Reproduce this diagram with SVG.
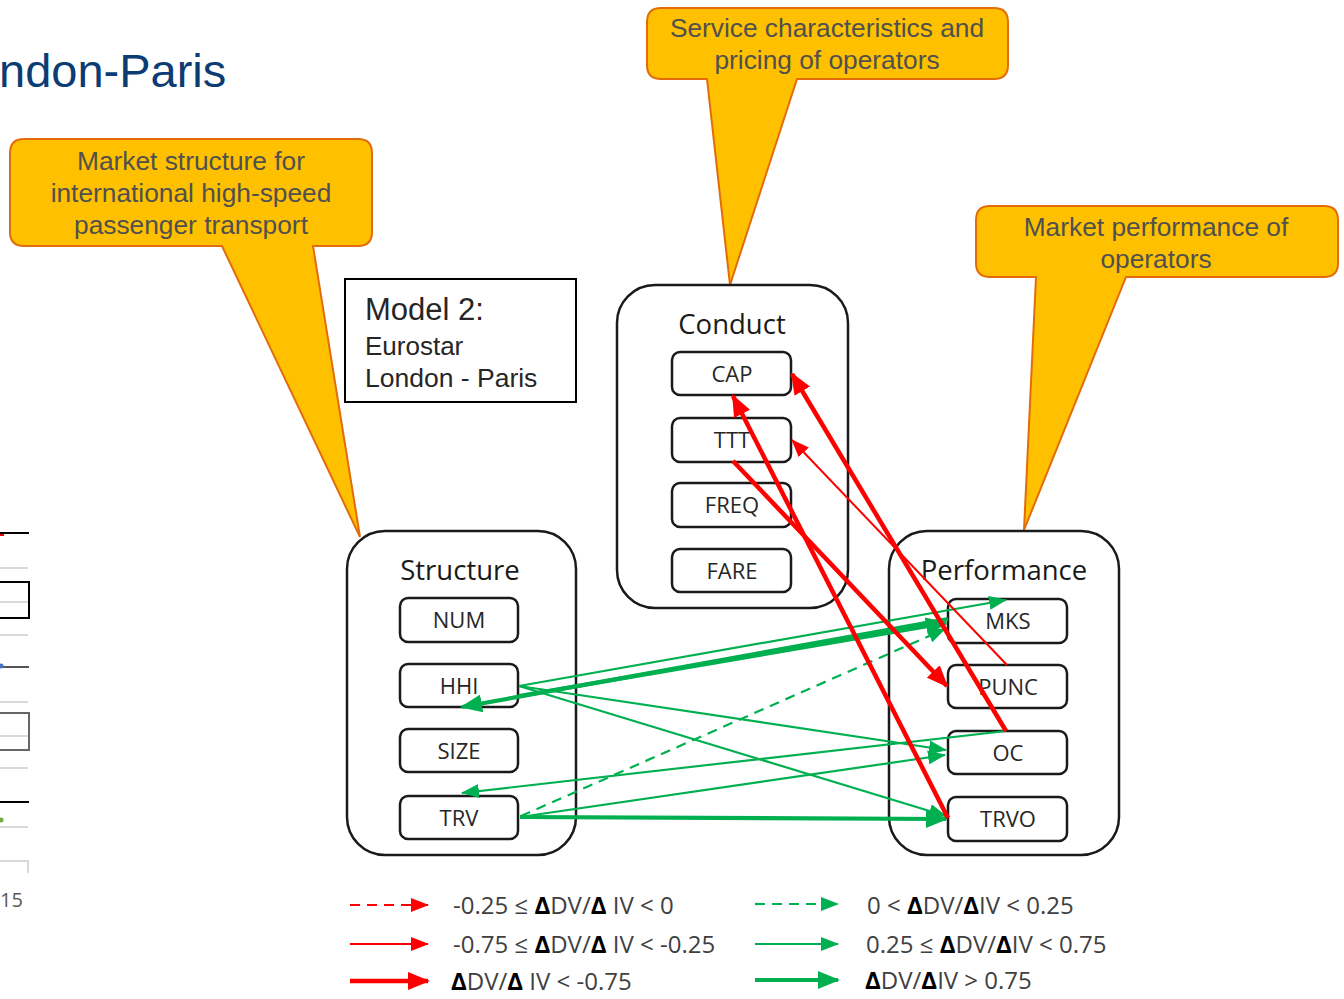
<svg xmlns="http://www.w3.org/2000/svg" width="1344" height="999" viewBox="0 0 1344 999">
<defs>
<style>
.callout{fill:#FFC000;stroke:#E36C09;stroke-width:2}
.ctext{font-family:"Liberation Sans",Arial,sans-serif;font-size:26.3px;fill:#505050;text-anchor:middle}
.cont{fill:#fff;stroke:#1a1a1a;stroke-width:2.5}
.box{fill:#fff;stroke:#1a1a1a;stroke-width:2.5}
.hdr{font-family:"Open Sans",sans-serif;font-size:27.5px;fill:#1a1a1a;text-anchor:middle}
.lbl{font-family:"Open Sans",sans-serif;font-size:22px;fill:#262626;text-anchor:middle}
.rt{stroke:#FF0000;stroke-width:2;fill:none}
.rk{stroke:#FF0000;stroke-width:4.5;fill:none}
.gt{stroke:#00B050;stroke-width:2.2;fill:none}
.gk{stroke:#00B050;stroke-width:4.2;fill:none}
.dash{stroke-dasharray:10 7}
.leg{font-family:"Open Sans",sans-serif;font-size:24px;fill:#404040}
.d{font-weight:bold;fill:#000}
.edge{stroke:#d9d9d9;stroke-width:2;fill:none}
.mt{font-family:"Liberation Sans",Arial,sans-serif;fill:#262626}
</style>
<marker id="mrt" markerUnits="userSpaceOnUse" markerWidth="18" markerHeight="14" viewBox="0 0 18 14" refX="17" refY="7" orient="auto"><path d="M0,0 L18,7 L0,14 Z" fill="#FF0000"/></marker>
<marker id="mrk" markerUnits="userSpaceOnUse" markerWidth="22" markerHeight="18" viewBox="0 0 22 18" refX="20" refY="9" orient="auto"><path d="M0,0 L22,9 L0,18 Z" fill="#FF0000"/></marker>
<marker id="mgt" markerUnits="userSpaceOnUse" markerWidth="18" markerHeight="14" viewBox="0 0 18 14" refX="17" refY="7" orient="auto"><path d="M0,0 L18,7 L0,14 Z" fill="#00B050"/></marker>
<marker id="mgk" markerUnits="userSpaceOnUse" markerWidth="22" markerHeight="18" viewBox="0 0 22 18" refX="20" refY="9" orient="auto"><path d="M0,0 L22,9 L0,18 Z" fill="#00B050"/></marker>
</defs>
<rect width="1344" height="999" fill="#fff"/>

<g id="edge-fragments">
<line x1="0" y1="533" x2="29" y2="533" stroke="#000" stroke-width="2"/>
<line x1="0" y1="535" x2="4" y2="535" stroke="#e00" stroke-width="2"/>
<line class="edge" x1="0" y1="568" x2="28" y2="568"/>
<rect x="-5" y="582" width="34" height="36" fill="none" stroke="#000" stroke-width="2"/>
<line class="edge" x1="0" y1="602" x2="28" y2="602"/>
<line class="edge" x1="0" y1="635" x2="28" y2="635"/>
<line x1="0" y1="667" x2="29" y2="667" stroke="#555" stroke-width="2"/>
<circle cx="1" cy="666" r="2.5" fill="#4472C4"/>
<line class="edge" x1="0" y1="702" x2="28" y2="702"/>
<rect x="-5" y="713" width="34" height="37" fill="none" stroke="#666" stroke-width="2"/>
<line class="edge" x1="0" y1="736" x2="28" y2="736"/>
<line class="edge" x1="0" y1="768" x2="28" y2="768"/>
<line x1="0" y1="802" x2="29" y2="802" stroke="#000" stroke-width="2"/>
<circle cx="1" cy="820" r="2.5" fill="#70AD47"/>
<line class="edge" x1="0" y1="827" x2="28" y2="827"/>
<path class="edge" d="M0,861 H28 V873"/>
<text x="0" y="907" font-family="'Open Sans',sans-serif" font-size="20" fill="#595959">15</text>
</g>

<text id="title" x="-1" y="87" font-family="'Liberation Sans',Arial,sans-serif" font-size="47" fill="#0B3C73">ndon-Paris</text>

<g id="callout-structure">
<path class="callout" d="M24,139 H358 Q372,139 372,153 V232 Q372,246 358,246 H313 L360,537 L222,246 H24 Q10,246 10,232 V153 Q10,139 24,139 Z"/>
<text class="ctext" x="191" y="170">Market structure for</text>
<text class="ctext" x="191" y="202">international high-speed</text>
<text class="ctext" x="191" y="234">passenger transport</text>
</g>
<g id="callout-conduct">
<path class="callout" d="M661,8 H994 Q1008,8 1008,22 V65 Q1008,79 994,79 H797 L730,285 L707,79 H661 Q647,79 647,65 V22 Q647,8 661,8 Z"/>
<text class="ctext" x="827" y="37">Service characteristics and</text>
<text class="ctext" x="827" y="69">pricing of operators</text>
</g>
<g id="callout-performance">
<path class="callout" d="M990,206 H1324 Q1338,206 1338,220 V263 Q1338,277 1324,277 H1126 L1024,530 L1036,277 H990 Q976,277 976,263 V220 Q976,206 990,206 Z"/>
<text class="ctext" x="1156" y="236">Market performance of</text>
<text class="ctext" x="1156" y="268">operators</text>
</g>

<g id="model-box">
<rect x="345" y="279" width="231" height="123" fill="#fff" stroke="#000" stroke-width="2"/>
<text class="mt" x="365" y="320" font-size="31">Model 2:</text>
<text class="mt" x="365" y="355" font-size="26">Eurostar</text>
<text class="mt" x="365" y="387" font-size="26.5">London - Paris</text>
</g>

<g id="structure">
<rect class="cont" x="347" y="531" width="229" height="324" rx="38"/>
<text class="hdr" x="460" y="580">Structure</text>
<g id="NUM"><rect class="box" x="400" y="598" width="118" height="44" rx="8"/><text class="lbl" x="459" y="628">NUM</text></g>
<g id="HHI"><rect class="box" x="400" y="664" width="118" height="43" rx="8"/><text class="lbl" x="459" y="694">HHI</text></g>
<g id="SIZE"><rect class="box" x="400" y="729" width="118" height="43" rx="8"/><text class="lbl" x="459" y="759">SIZE</text></g>
<g id="TRV"><rect class="box" x="400" y="796" width="118" height="43" rx="8"/><text class="lbl" x="459" y="826">TRV</text></g>
</g>

<g id="conduct">
<rect class="cont" x="617" y="285" width="231" height="323" rx="38"/>
<text class="hdr" x="732" y="334">Conduct</text>
<g id="CAP"><rect class="box" x="672" y="352" width="119" height="43" rx="8"/><text class="lbl" x="732" y="382">CAP</text></g>
<g id="TTT"><rect class="box" x="672" y="418" width="119" height="44" rx="8"/><text class="lbl" x="732" y="448">TTT</text></g>
<g id="FREQ"><rect class="box" x="672" y="483" width="119" height="44" rx="8"/><text class="lbl" x="732" y="513">FREQ</text></g>
<g id="FARE"><rect class="box" x="672" y="549" width="119" height="43" rx="8"/><text class="lbl" x="732" y="579">FARE</text></g>
</g>

<g id="performance">
<rect class="cont" x="889" y="531" width="230" height="324" rx="38"/>
<text class="hdr" x="1004" y="580">Performance</text>
<g id="MKS"><rect class="box" x="948" y="599" width="119" height="44" rx="8"/><text class="lbl" x="1008" y="629">MKS</text></g>
<g id="PUNC"><rect class="box" x="948" y="665" width="119" height="43" rx="8"/><text class="lbl" x="1008" y="695">PUNC</text></g>
<g id="OC"><rect class="box" x="948" y="731" width="119" height="43" rx="8"/><text class="lbl" x="1008" y="761">OC</text></g>
<g id="TRVO"><rect class="box" x="948" y="797" width="119" height="44" rx="8"/><text class="lbl" x="1008" y="827">TRVO</text></g>
</g>

<g id="connectors">
<line class="gt" x1="519" y1="686" x2="1006" y2="600" marker-end="url(#mgt)"/>
<line class="gk" x1="948" y1="619" x2="462" y2="707" marker-end="url(#mgk)"/>
<line class="gk" x1="519" y1="696" x2="946" y2="623" marker-end="url(#mgk)"/>
<line class="gt dash" x1="521" y1="816" x2="945" y2="629" marker-end="url(#mgt)"/>
<line class="gt" x1="519" y1="686" x2="946" y2="750" marker-end="url(#mgt)"/>
<line class="gt" x1="520" y1="817" x2="945" y2="755" marker-end="url(#mgt)"/>
<line class="gt" x1="519" y1="686" x2="946" y2="816" marker-end="url(#mgt)"/>
<line class="gt" x1="1006" y1="731" x2="462" y2="793" marker-end="url(#mgt)"/>
<line class="gk" x1="520" y1="817" x2="946" y2="819" marker-end="url(#mgk)"/>
<line class="rk" x1="1006" y1="731" x2="792" y2="374" marker-end="url(#mrk)"/>
<line class="rt" x1="1007" y1="665" x2="792" y2="440" marker-end="url(#mrt)"/>
<line class="rk" x1="733" y1="461" x2="947" y2="686" marker-end="url(#mrk)"/>
<line class="rk" x1="948" y1="818" x2="733" y2="396" marker-end="url(#mrk)"/>
</g>

<g id="legend">
<line class="rt dash" x1="350" y1="905" x2="428" y2="905" marker-end="url(#mrt)"/>
<text class="leg" x="453" y="914">-0.25 ≤ <tspan class="d">Δ</tspan>DV/<tspan class="d">Δ</tspan> IV &lt; 0</text>
<line class="rt" x1="350" y1="944" x2="428" y2="944" stroke-width="2.5" marker-end="url(#mrt)"/>
<text class="leg" x="453" y="953">-0.75 ≤ <tspan class="d">Δ</tspan>DV/<tspan class="d">Δ</tspan> IV &lt; -0.25</text>
<line class="rk" x1="350" y1="981" x2="428" y2="981" marker-end="url(#mrk)"/>
<text class="leg" x="451" y="990"><tspan class="d">Δ</tspan>DV/<tspan class="d">Δ</tspan> IV &lt; -0.75</text>
<line class="gt dash" x1="755" y1="904" x2="838" y2="904" marker-end="url(#mgt)"/>
<text class="leg" x="867" y="914">0 &lt; <tspan class="d">Δ</tspan>DV/<tspan class="d">Δ</tspan>IV &lt; 0.25</text>
<line class="gt" x1="755" y1="944" x2="838" y2="944" stroke-width="2.5" marker-end="url(#mgt)"/>
<text class="leg" x="866" y="953">0.25 ≤ <tspan class="d">Δ</tspan>DV/<tspan class="d">Δ</tspan>IV &lt; 0.75</text>
<line class="gk" x1="755" y1="980" x2="838" y2="980" marker-end="url(#mgk)"/>
<text class="leg" x="865" y="989"><tspan class="d">Δ</tspan>DV/<tspan class="d">Δ</tspan>IV &gt; 0.75</text>
</g>
</svg>
